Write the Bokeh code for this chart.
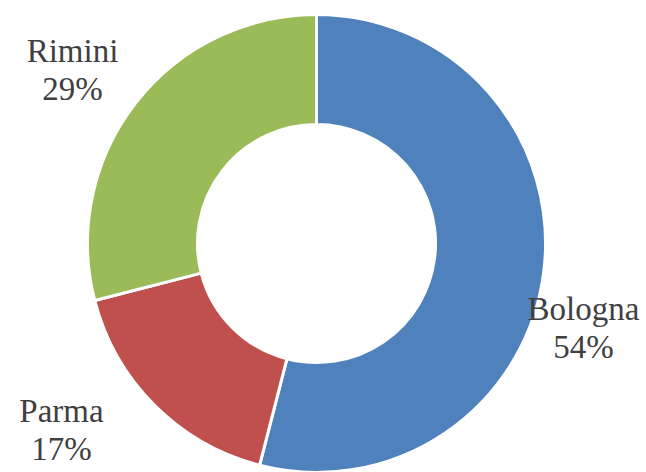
import math
from bokeh.plotting import figure
from bokeh.models import Range1d, ColumnDataSource
from bokeh.core.properties import value
from bokeh.embed import file_html
from bokeh.resources import INLINE

cities = ["Bologna", "Parma", "Rimini"]
shares = [54, 17, 29]
colors = ["#4F81BD", "#C0504D", "#9BBB59"]

W, H = 646, 472
cx, cy = 316, 243  # donut centre in pixel coords (from top-left)
R_OUT, R_IN = 229, 119

p = figure(width=W, height=H, output_backend="svg", toolbar_location=None,
           x_range=Range1d(-cx, W - cx), y_range=Range1d(-(H - cy), cy),
           min_border=0)
p.axis.visible = False
p.grid.visible = False
p.outline_line_color = None
p.background_fill_color = "white"

total = sum(shares)
starts, ends = [], []
a = math.pi / 2
for s in shares:
    starts.append(a)
    a -= 2 * math.pi * s / total
    ends.append(a)

src = ColumnDataSource(dict(start=starts, end=ends, color=colors))
p.annular_wedge(x=0, y=0, inner_radius=R_IN, outer_radius=R_OUT,
                start_angle="start", end_angle="end", direction="clock",
                fill_color="color", line_color="white", line_width=3,
                source=src)

# label anchors: (x offset, baseline of first line) in pixels relative to centre, y up
label_pos = [(267, -65), (-255, -167), (-244, 193)]
LINE = 38
name_x, name_y, pct_x, pct_y, names, pcts = [], [], [], [], [], []
for (lx, ly), c, s in zip(label_pos, cities, shares):
    name_x.append(lx); name_y.append(ly)
    pct_x.append(lx); pct_y.append(ly - LINE)
    names.append(c); pcts.append(f"{round(100 * s / total)}%")

font = value("Liberation Serif")
p.text(x=name_x, y=name_y, text=names, text_align="center", text_baseline="alphabetic",
       text_font=font, text_font_size="33px", text_color="#404040")
p.text(x=pct_x, y=pct_y, text=pcts, text_align="center", text_baseline="alphabetic",
       text_font=font, text_font_size="33px", text_color="#404040")

open("out.html", "w").write(file_html(p, INLINE))
